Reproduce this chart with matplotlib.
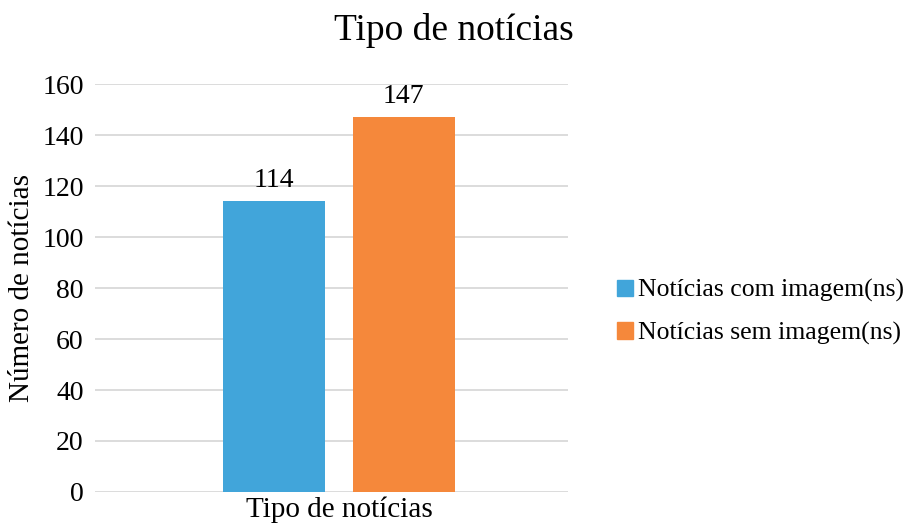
import matplotlib
matplotlib.use("Agg")
import matplotlib.pyplot as plt
from matplotlib.patches import Patch

categories = ["Tipo de notícias"]
series_names = ["Notícias com imagem(ns)", "Notícias sem imagem(ns)"]
values = [114, 147]
colors = ["#41A5DA", "#F5883B"]
yticks = [0, 20, 40, 60, 80, 100, 120, 140, 160]

plt.rcParams['font.family'] = ['Liberation Serif', 'DejaVu Serif']

fig = plt.figure(figsize=(9.07, 5.29), dpi=100)
ax = fig.add_axes([0.1047, 0.070, 0.5215, 0.771])

offsets = [-0.138, 0.137]
width = 0.216
for v, c, off, name in zip(values, colors, offsets, series_names):
    b = ax.bar(0 + off, v, width=width, color=c, label=name, zorder=3)
    ax.bar_label(b, labels=[str(v)], padding=6, fontsize=20)

ax.set_xlim(-0.516, 0.484)
ax.set_ylim(0, 160)
ax.set_yticks(yticks)
ax.set_xticks([0])
ax.set_xticklabels(categories, fontsize=21)
ax.tick_params(axis='y', labelsize=20, length=0, pad=8)
ax.tick_params(axis='x', length=0, pad=3)
ax.yaxis.grid(True, color="#D9D9D9", linewidth=1.3, zorder=0)
for s in ax.spines.values():
    s.set_visible(False)
ax.set_ylabel("Número de notícias", fontsize=21, labelpad=5)
fig.suptitle("Tipo de notícias", x=0.5, y=0.975, fontsize=27)

handles = [Patch(color=c) for c in colors]
fig.legend(handles, series_names, loc='center left', bbox_to_anchor=(0.655, 0.41),
           frameon=False, fontsize=18.5, handlelength=0.6, handleheight=0.6,
           handletextpad=0.2, labelspacing=0.75)

fig.savefig("out.png", dpi=100)
